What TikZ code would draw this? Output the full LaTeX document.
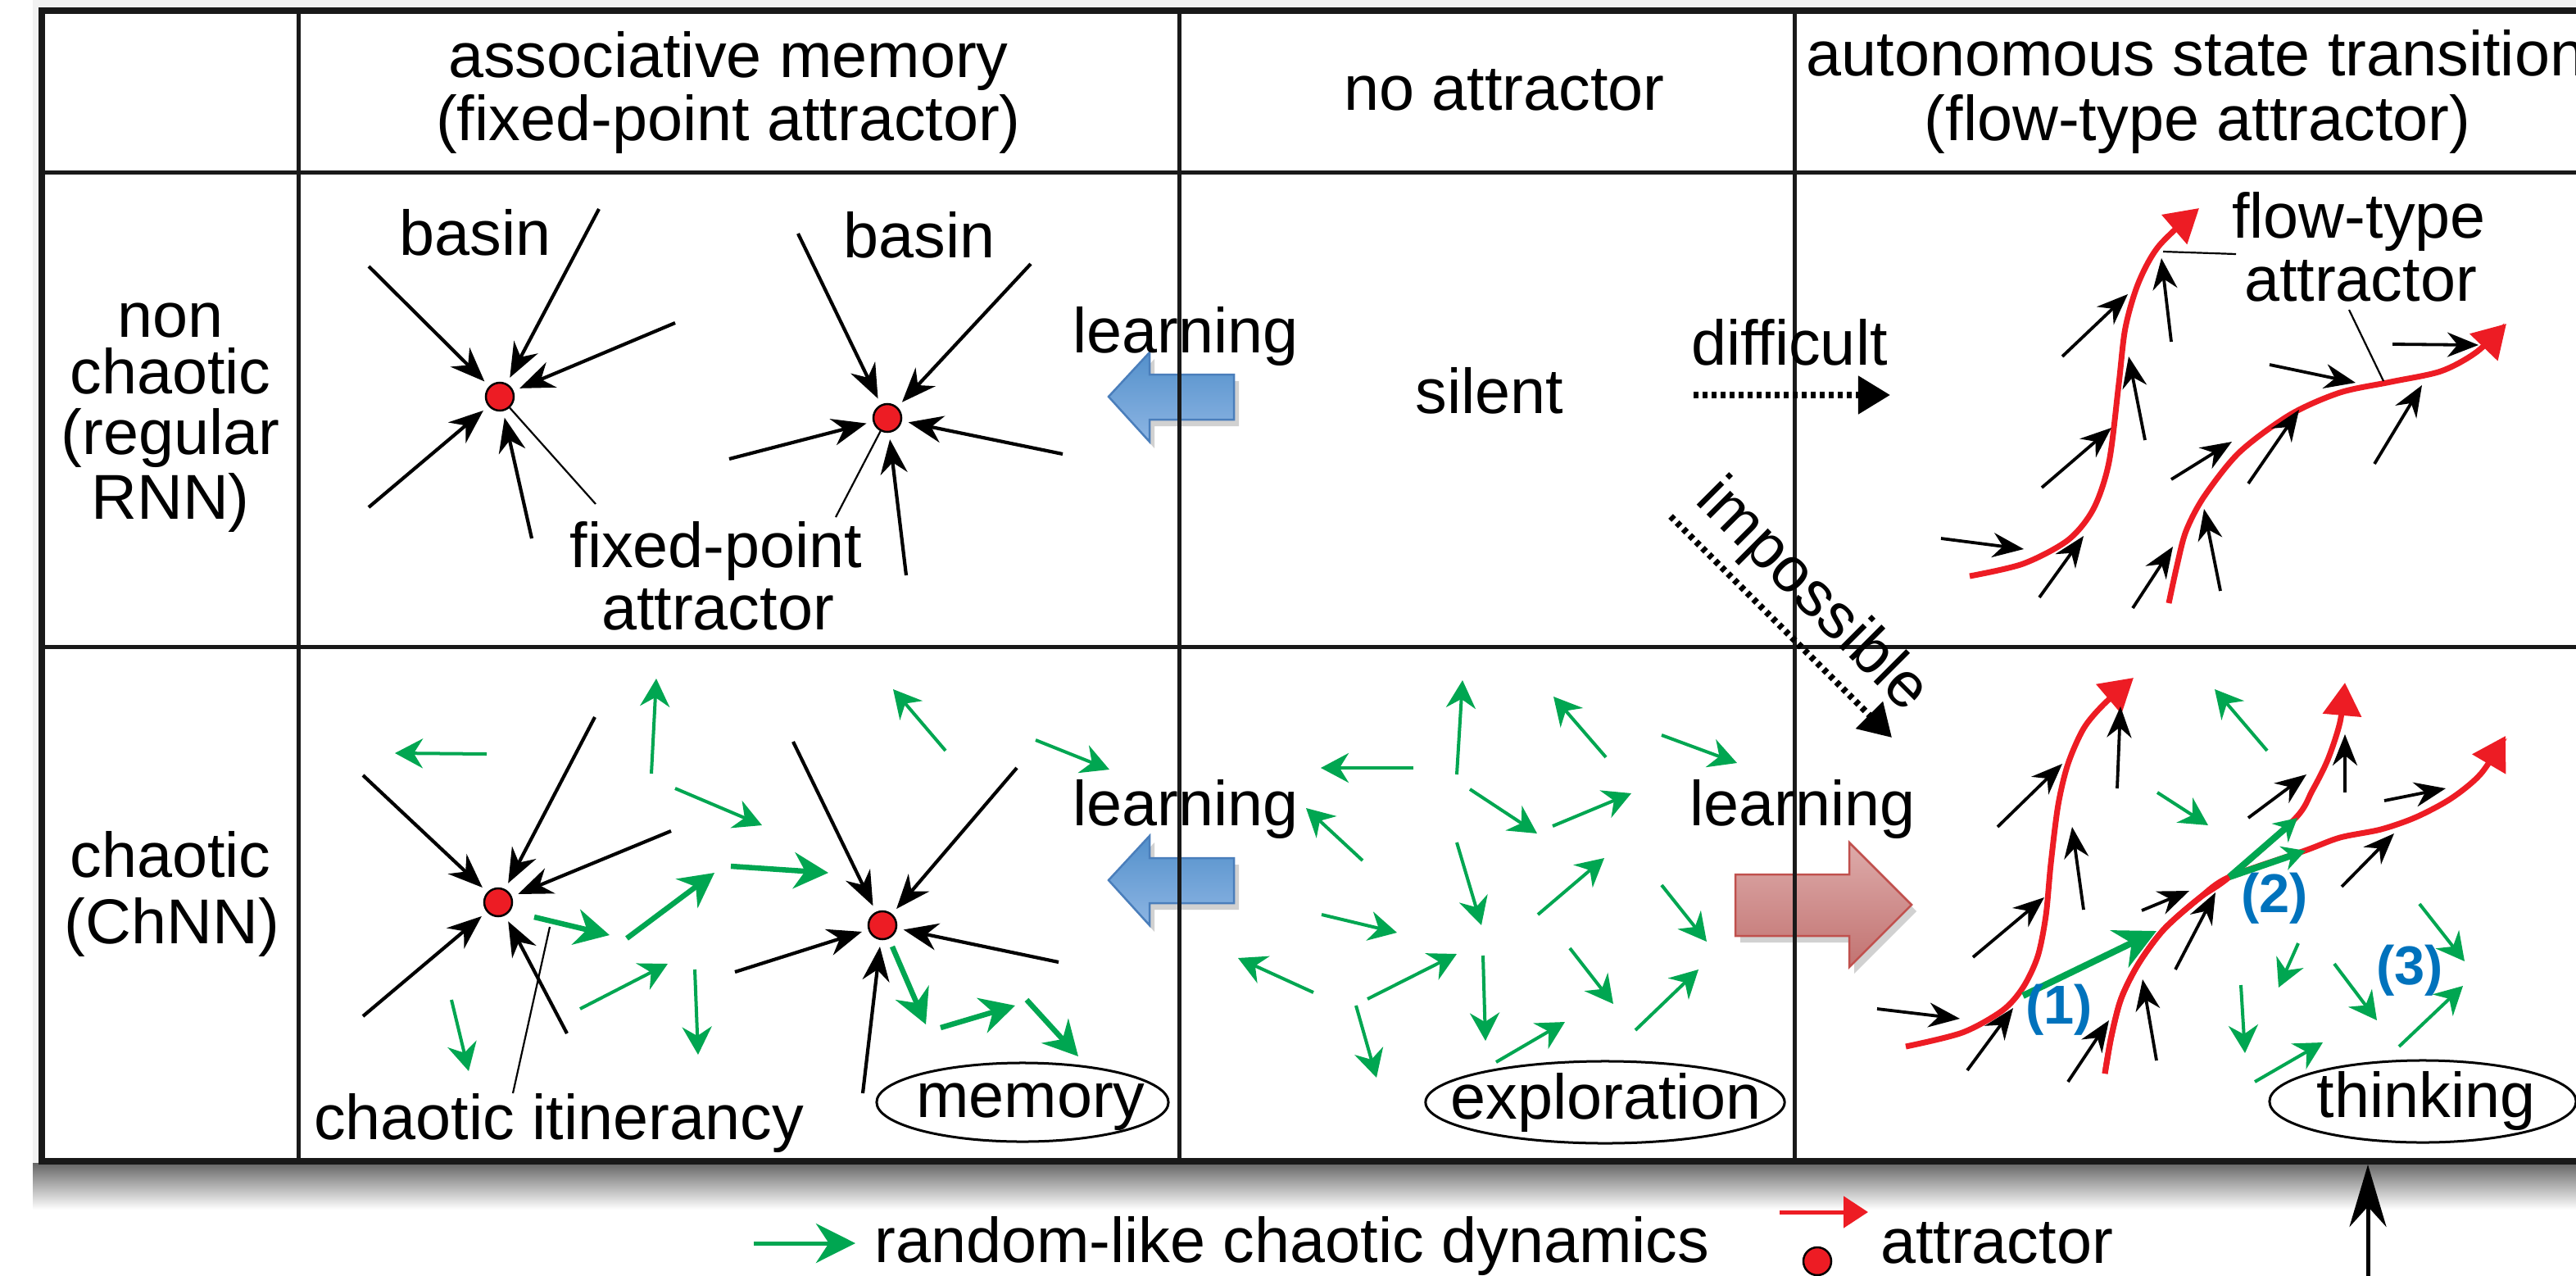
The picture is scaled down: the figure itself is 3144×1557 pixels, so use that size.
\documentclass[tikz,border=0pt]{standalone}
\usepackage{fontspec}
\setmainfont{Liberation Sans}
\usetikzlibrary{arrows.meta,shapes.geometric}
\definecolor{attred}{HTML}{ED1C24}
\definecolor{chgreen}{HTML}{00A651}
\definecolor{numblue}{HTML}{0072BC}
\definecolor{bluetop}{HTML}{5390CB}
\definecolor{bluebot}{HTML}{8DB5E3}
\definecolor{blueedge}{HTML}{4A7EBB}
\definecolor{redtop}{HTML}{DDABAA}
\definecolor{redbot}{HTML}{C27371}
\definecolor{rededge}{HTML}{C0504D}

\tikzset{
  lbl/.style={anchor=base,inner sep=0pt},
  grid/.style={line width=0.5mm,black!90},
  basin/.style={line width=0.42mm,-{Stealth[length=4.2mm,width=3.3mm]},shorten >=0.8mm},
  flowin/.style={line width=0.38mm,-{Stealth[length=3.8mm,width=3mm]}},
  chaos/.style={draw=chgreen,line width=0.4mm,-{Stealth[length=3.4mm,width=3.6mm]}},
  itin/.style={draw=chgreen,line width=0.65mm,-{Stealth[length=4.2mm,width=4.4mm]}},
  jump/.style={draw=chgreen,line width=0.8mm,-{Stealth[length=5mm,width=5mm]}},
  jumpsm/.style={draw=chgreen,line width=0.8mm,-{Stealth[length=2.8mm,width=3mm]}},
  attr/.style={draw=attred,line width=0.7mm,-{Triangle[length=4mm,width=4.6mm]}},
  leader/.style={line width=0.22mm},
  hard/.style={line width=0.8mm,dash pattern=on 0.55mm off 0.55mm,-{Triangle[length=3.9mm,width=4.5mm]}},
  fixpt/.style={circle,draw=black,line width=0.25mm,fill=attred,minimum size=3.4mm,inner sep=0pt},
  oval/.style={ellipse,draw,line width=0.3mm,inner sep=0pt},
  numlbl/.style={text=numblue,font=\fontsize{19}{19}\selectfont\bfseries,inner sep=0pt}
}

\begin{document}
\begin{tikzpicture}[x=0.01cm,y=-0.01cm,font=\fontsize{22}{22}\selectfont]
		\useasboundingbox (0,0) rectangle (3144,1557);
		\clip (0,0) rectangle (3144,1557);

		% the shadow of the table
		\fill[black!5] (40,0) rectangle (3144,1430);
		\shade[top color=black!60,bottom color=white] (40,1419) rectangle (3144,1476);
		\fill[white] (51,13) rectangle (3180,1417);

		% the block arrows for learning
		\foreach \dy in {0,590} {
			\fill[black,opacity=0.18] (1512,465+\dy) -- (1409,465+\dy) -- (1409,438+\dy) -- (1359,492+\dy) -- (1409,547+\dy) -- (1409,520+\dy) -- (1512,520+\dy) -- cycle;
			\shade[top color=bluetop,bottom color=bluebot,draw=blueedge,line width=0.25mm] (1506,457+\dy) -- (1403,457+\dy) -- (1403,430+\dy) -- (1353,484+\dy) -- (1403,539+\dy) -- (1403,512+\dy) -- (1506,512+\dy) -- cycle;
		}
		\fill[black,opacity=0.18] (2124,1075) -- (2263,1075) -- (2263,1036) -- (2339,1112) -- (2263,1188) -- (2263,1150) -- (2124,1150) -- cycle;
		\shade[top color=redtop,bottom color=redbot,draw=rededge,line width=0.25mm] (2118,1067) -- (2257,1067) -- (2257,1028) -- (2333,1104) -- (2257,1180) -- (2257,1142) -- (2118,1142) -- cycle;

		% the table lines
		\draw[grid] (51,210) -- (3180,210);
		\draw[grid] (51,789) -- (3180,789);
		\foreach \cx in {364,1439,2190}
			\draw[grid] (\cx,13) -- (\cx,1417);
		\draw[line width=0.75mm,black!90] (51,13) rectangle (3180,1417);

		% the headings
		\node[lbl] (hdmemA) at (889,94) {associative memory};
		\node[lbl] (hdmemB) at (889,171) {(fixed-point attractor)};
		\node[lbl] (hdnone) at (1836,134) {no attractor};
		\node[lbl] (hdflowA) at (2680,92) {autonomous state transition};
		\node[lbl] (hdflowB) at (2682,171) {(flow-type attractor)};
		\node[lbl] (rowA) at (208,411) {non};
		\node[lbl] (rowB) at (208,480) {chaotic};
		\node[lbl] (rowC) at (208,554) {(regular};
		\node[lbl] (rowD) at (208,633) {RNN)};
		\node[lbl] (rowE) at (208,1070) {chaotic};
		\node[lbl] (rowF) at (210,1151) {(ChNN)};

		% the fixed points and their basins
		\node[fixpt] (fpa) at (610,484) {};
		\node[fixpt] (fpb) at (1083,510) {};
		\node[fixpt] (fpc) at (608,1101) {};
		\node[fixpt] (fpd) at (1077,1129) {};
		\foreach \sx/\sy in {450/325,731/255,824/394,450/619,649/657}
			\draw[basin] (\sx,\sy) -- (fpa);
		\foreach \sx/\sy in {974/285,1258/322,890/560,1297/554,1106/702}
			\draw[basin] (\sx,\sy) -- (fpb);
		\foreach \sx/\sy in {443/946,726/875,819/1014,443/1240,692/1261}
			\draw[basin] (\sx,\sy) -- (fpc);
		\foreach \sx/\sy in {968/905,1241/937,897/1186,1292/1174,1053/1334}
			\draw[basin] (\sx,\sy) -- (fpd);
		\node[lbl] (basA) at (580,311) {basin};
		\node[lbl] (basB) at (1122,314) {basin};
		\node[lbl] (fixA) at (874,692) {fixed-point};
		\node[lbl] (fixB) at (876,768) {attractor};
		\coordinate (fixL) at (727,615);
		\coordinate (fixR) at (1020,631);
		\draw[leader] (fpa) -- (fixL);
		\draw[leader] (fpb) -- (fixR);

		% the middle column
		\node[lbl] (learnA) at (1447,430) {learning};
		\node[lbl] (learnB) at (1447,1007) {learning};
		\node[lbl] (learnC) at (2200,1007) {learning};
		\node[lbl] (silent) at (1818,504) {silent};
		\node[lbl] (diff) at (2184,445) {difficult};
		\coordinate (diffA) at (2067,482);
		\coordinate (diffB) at (2307,482);
		\draw[hard] (diffA) -- (diffB);
		\node[lbl,rotate=-45] (imposs) at (2197,742) {impossible};
		\coordinate (impA) at (2039,630);
		\coordinate (impB) at (2309,900);
		\draw[hard] (impA) -- (impB);

		% the flow-type attractors
		\draw[attr] plot[smooth] coordinates {(2404,703) (2469,688) (2524,659) (2555,621) (2574,564) (2586,468) (2594,400) (2610,345) (2635,300) (2684,254)};
		\draw[attr] plot[smooth] coordinates {(2647,736) (2657,690) (2668,648) (2690,606) (2733,552) (2795,506) (2856,479) (2918,466) (2979,453) (3022,430) (3059,395)};
		\draw[attr] plot[smooth] coordinates {(2326,1277) (2395,1260) (2444,1233) (2469,1205) (2487,1167) (2497,1117) (2503,1054) (2512,982) (2524,932) (2543,889) (2567,860) (2604,827)};
		\draw[attr] plot[smooth] coordinates {(2569,1310) (2577,1264) (2589,1218) (2610,1176) (2641,1134) (2684,1096) (2721,1070) (2801,999) (2822,965) (2841,927) (2856,881) (2862,833)};
		\draw[attr] plot[smooth] coordinates {(2569,1310) (2577,1264) (2589,1218) (2610,1176) (2641,1134) (2684,1096) (2721,1070) (2813,1038) (2856,1022) (2906,1012) (2949,997) (2992,974) (3028,944) (3058,898)};
		\foreach \sx/\sy/\tx/\ty in {2369/657/2470/670,2489/729/2543/654,2492/595/2577/522,2517/435/2597/359,2650/417/2638/315,2618/537/2598/435,2650/585/2724/539,2744/590/2806/500,2603/742/2652/667,2710/721/2690/621,2770/445/2875/467,2898/566/2956/470,2920/420/3025/421}
			\draw[flowin] (\sx,\sy) -- (\tx,\ty);
		\foreach \sx/\sy/\tx/\ty in {2291/1231/2392/1243,2401/1306/2457/1230,2408/1168/2495/1095,2438/1009/2517/932,2584/962/2588/862,2543/1110/2529/1009,2524/1320/2574/1245,2632/1294/2615/1195,2614/1111/2672/1087,2655/1183/2704/1089,2744/998/2815/945,2862/967/2862/896,2910/977/2985/962,2858/1082/2922/1017}
			\draw[flowin] (\sx,\sy) -- (\tx,\ty);
		\node[lbl] (flowA) at (2879,290) {flow-type};
		\node[lbl] (flowB) at (2881,367) {attractor};
		\coordinate (flowL) at (2640,307);
		\coordinate (flowR) at (2909,465);
		\draw[leader] (flowL) -- (2729,310);
		\draw[leader] (2867,378) -- (flowR);

		% the random-like chaotic dynamics
		\foreach \sx/\sy/\tx/\ty in {594/920/482/919,795/944/801/828,824/962/930/1007,1154/916/1090/841,1264/903/1354/939,551/1220/572/1307,708/1231/815/1176,848/1183/852/1287,
			1725/937/1612/937,1778/945/1785/830,1960/924/1896/850,2028/897/2120/931,1663/1050/1594/986,1794/963/1876/1017,1895/1008/1991/968,1778/1028/1808/1129,1877/1116/1958/1047,2028/1080/2083/1149,1613/1116/1705/1138,1603/1211/1511/1169,1669/1219/1778/1164,1655/1227/1680/1315,1810/1166/1813/1270,1916/1157/1969/1225,1826/1296/1910/1247,1996/1257/2073/1183,
			2767/916/2703/841,2633/967/2695/1007,2805/1151/2781/1205,2735/1202/2740/1285,2752/1320/2835/1272,2849/1176/2901/1245,2953/1103/3008/1173,2928/1277/3006/1203}
			\draw[chaos] (\sx,\sy) -- (\tx,\ty);
		\foreach \sx/\sy/\tx/\ty in {652/1119/744/1141,765/1145/872/1065,892/1057/1011/1065,1089/1155/1130/1250,1148/1254/1239/1227,1253/1220/1316/1289}
			\draw[itin] (\sx,\sy) -- (\tx,\ty);
		\node[lbl] (itiner) at (682,1390) {chaotic itinerancy};
		\coordinate (itinL) at (671,1131);
		\draw[leader] (itinL) -- (626,1334);

		% the jumps between attractors
		\draw[jump] (2469,1215) -- (2632,1136);
		\draw[jumpsm] (2721,1070) -- (2804,998);
		\draw[jumpsm] (2721,1070) -- (2814,1038);
		\node[numlbl] (one) at (2513,1232) {(1)};
		\node[numlbl] (two) at (2776,1096) {(2)};
		\node[numlbl] (three) at (2941,1184) {(3)};

		% the three modes
		\node[oval,minimum width=35.6mm,minimum height=9.6mm] (memo) at (1248,1345) {};
		\node[lbl] (memotxt) at (1258,1363) {memory};
		\node[oval,minimum width=43.8mm,minimum height=10mm] (expl) at (1959,1345) {};
		\node[lbl] (expltxt) at (1960,1365) {exploration};
		\node[oval,minimum width=37.4mm,minimum height=10mm] (think) at (2957,1344) {};
		\node[lbl] (thinktxt) at (2961,1363) {thinking};

		% the legend
		\draw[chgreen,line width=0.5mm,-{Stealth[length=4.8mm,width=4.8mm]}] (920,1517) -- (1044,1517);
		\node[lbl] (legA) at (1577,1540) {random-like chaotic dynamics};
		\draw[attred,line width=0.5mm,-{Triangle[length=3mm,width=3.8mm]}] (2172,1479) -- (2280,1479);
		\node[fixpt] (legdot) at (2218,1539) {};
		\node[lbl] (legB) at (2437,1541) {attractor};
		\coordinate (up) at (2890,1557);
		\coordinate (upend) at (2890,1421);
		\draw[line width=0.5mm,-{Stealth[length=7.6mm,width=4.5mm]}] (up) -- (upend);
\end{tikzpicture}
\end{document}
